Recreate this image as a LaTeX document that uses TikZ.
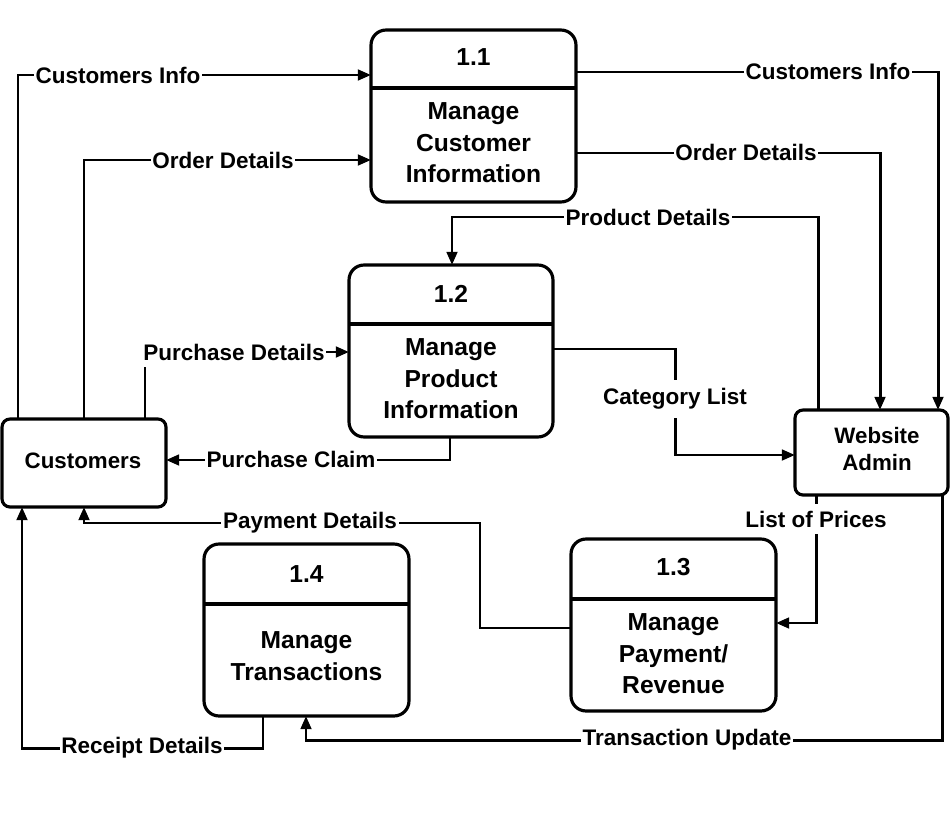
\documentclass[tikz,border=0pt]{standalone}
\usepackage{fontspec}
\setmainfont{Liberation Sans}
\usetikzlibrary{arrows.meta}
\begin{document}
\begin{tikzpicture}[x=0.02cm,y=-0.02cm,
  proc/.style={draw,line width=1.8pt,rounded corners=0.3cm,minimum width=4.1cm,minimum height=3.44cm,inner sep=0pt,outer sep=0pt},
  ent/.style={draw,line width=1.8pt,rounded corners=0.16cm,inner sep=0pt,outer sep=0pt},
  flow/.style={line width=1.7pt,-{Triangle[length=7.5pt,width=6pt]}},
  lbl/.style={fill=white,inner sep=1pt,font=\bfseries\fontsize{12.8}{15}\selectfont},
  ptxt/.style={align=center,inner sep=0pt,font=\bfseries\fontsize{14}{17.9}\selectfont},
  etxt/.style={align=center,inner sep=0pt,font=\bfseries\fontsize{12.7}{15.9}\selectfont}]
\useasboundingbox (0,0) rectangle (950,821);
% processes
\node[proc] (p11) at (473.5,116) {};
\node[proc,minimum width=4.08cm] (p12) at (451,351) {};
\node[proc] (p14) at (306.5,630) {};
\node[proc] (p13) at (673.5,625) {};
\draw[line width=1.8pt] (p11.west |- 0,88) -- (p11.east |- 0,88);
\draw[line width=1.8pt] (p12.west |- 0,324) -- (p12.east |- 0,324);
\draw[line width=1.8pt] (p14.west |- 0,604) -- (p14.east |- 0,604);
\draw[line width=1.8pt] (p13.west |- 0,599) -- (p13.east |- 0,599);
\node[ptxt] (n11) at (473.5,57) {1.1};
\node[ptxt] (t11) at (473.5,143) {Manage\\Customer\\Information};
\node[ptxt] (n12) at (451,294) {1.2};
\node[ptxt] (t12) at (451,379) {Manage\\Product\\Information};
\node[ptxt] (n14) at (306.5,574) {1.4};
\node[ptxt] (t14) at (306.5,656) {Manage\\Transactions};
\node[ptxt] (n13) at (673.5,567) {1.3};
\node[ptxt] (t13) at (673.5,654) {Manage\\Payment/\\Revenue};
% entities
\node[ent,minimum width=3.28cm,minimum height=1.76cm] (cust) at (84,463) {};
\node[etxt] (tc) at (83,461) {Customers};
\node[ent,minimum width=3.06cm,minimum height=1.7cm] (adm) at (871.5,452.5) {};
\node[etxt] (ta) at (877,449) {Website\\Admin};
% connectors
\draw[flow] (cust.north -| 18,0) |- (p11.west |- 0,75);
\draw[flow] (cust.north -| 84,0) |- (p11.west |- 0,160);
\draw[flow] (cust.north -| 145,0) |- (p12.west |- 0,352);
\draw[flow] (p12.south -| 450,0) |- (cust.east |- 0,460);
\draw[flow] (adm.north -| 818,0) |- (452,217) -- (p12.north -| 452,0);
\draw[flow] (p11.east |- 0,72) -| (adm.north -| 938,0);
\draw[flow] (p11.east |- 0,153) -| (adm.north -| 880,0);
\draw[flow] (p12.east |- 0,349) -| (675,455) -- (adm.west |- 0,455);
\draw[flow] (adm.south -| 816,0) |- (p13.east |- 0,623);
\draw[flow] (p13.west |- 0,628) -| (480,523) -| (cust.south -| 84,0);
\draw[flow] (p14.south -| 263,0) |- (22,748) -- (cust.south -| 22,0);
\draw[flow] (adm.south -| 942,0) |- (306,740) -- (p14.south -| 306,0);
% labels
\node[lbl] (l1) at (118,75) {Customers Info};
\node[lbl] (l2) at (223,160) {Order Details};
\node[lbl,inner ysep=4pt] (l3) at (234,352) {Purchase Details};
\node[lbl] (l4) at (291,459) {Purchase Claim};
\node[lbl] (l5) at (648,217) {Product Details};
\node[lbl] (l6) at (828,71) {Customers Info};
\node[lbl] (l7) at (746,152) {Order Details};
\node[lbl,inner ysep=5pt] (l8) at (675,399) {Category List};
\node[lbl,inner ysep=4pt] (l9) at (816,519) {List of Prices};
\node[lbl] (l10) at (310,523) {Payment Details};
\node[lbl] (l11) at (142,748) {Receipt Details};
\node[lbl] (l12) at (687,740) {Transaction Update};
\end{tikzpicture}
\end{document}
